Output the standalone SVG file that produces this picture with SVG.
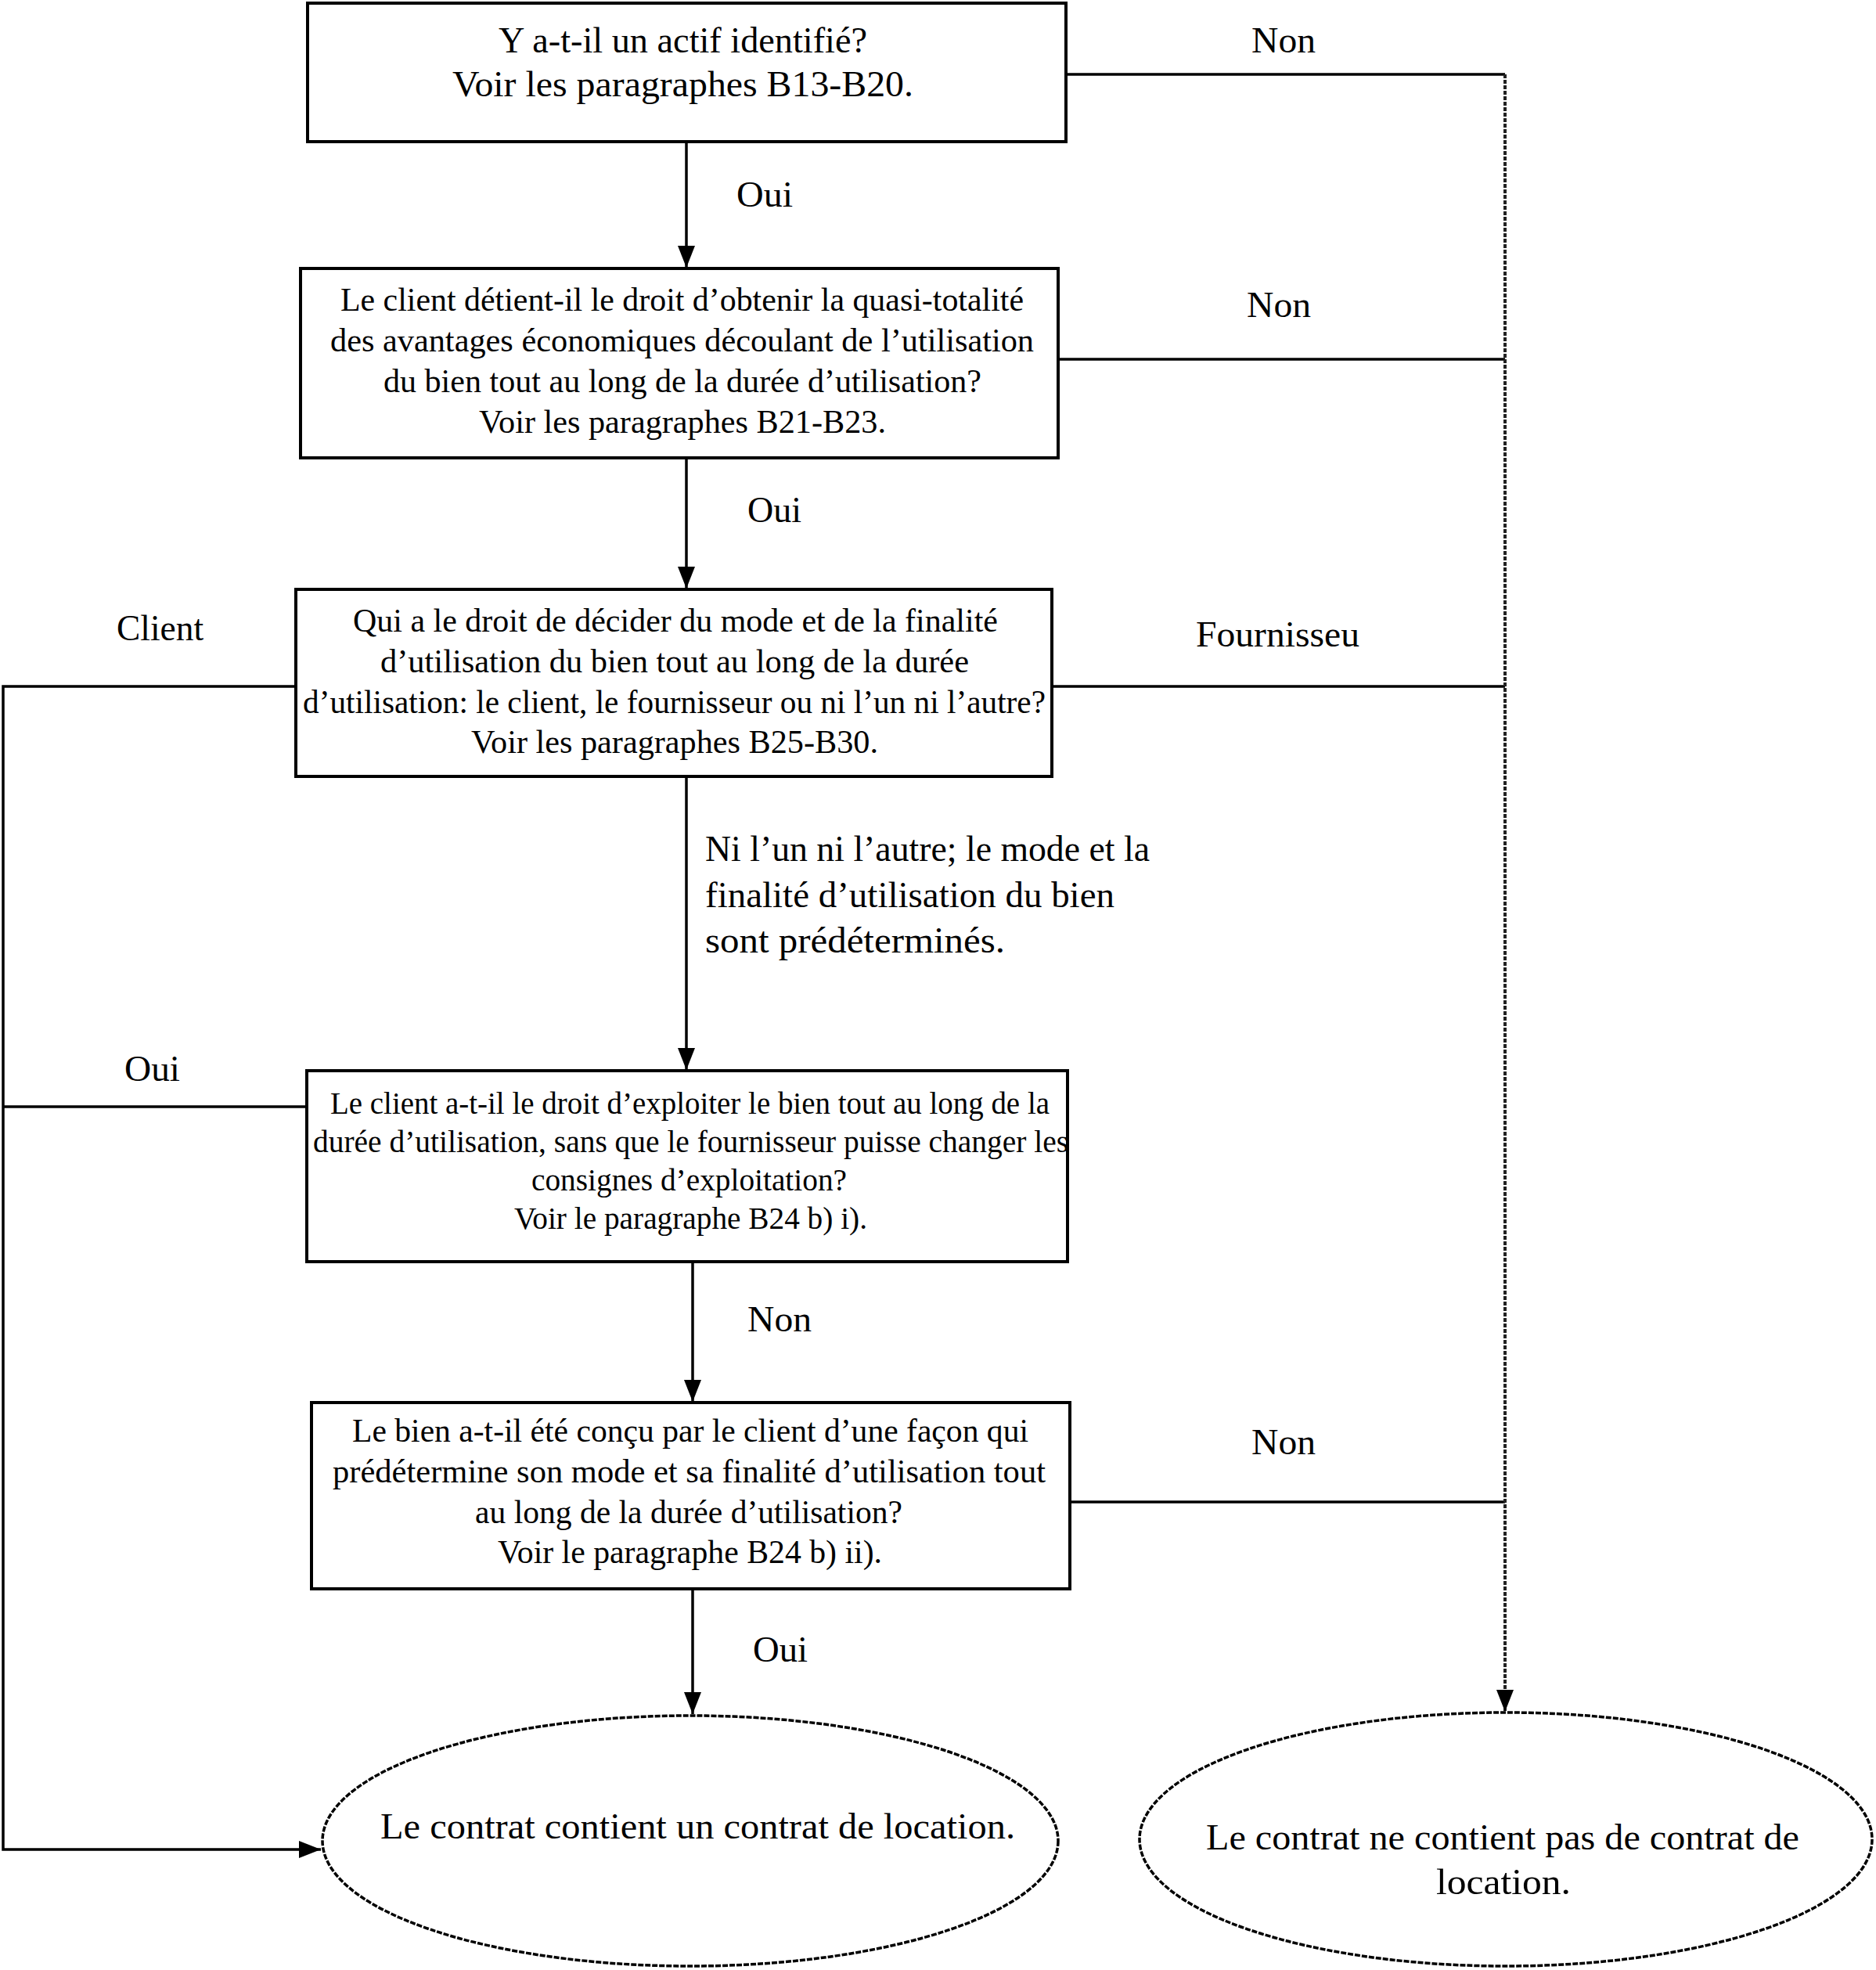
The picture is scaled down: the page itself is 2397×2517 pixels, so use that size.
<svg xmlns="http://www.w3.org/2000/svg" width="2397" height="2517" viewBox="0 0 2397 2517">
<defs>
<style>
.box{fill:#fff;stroke:#000;stroke-width:4}
.ell{fill:#fff;stroke:#000;stroke-width:3.5;stroke-dasharray:7 2}
.ln{fill:none;stroke:#000;stroke-width:3.5}
.dot{fill:none;stroke:#222;stroke-width:4;stroke-dasharray:5 2}
text{font-family:"Liberation Serif","Times New Roman",serif;fill:#000}
.t40{font-size:42px}
.t37{font-size:39px}
.t46{font-size:47px}
</style>
<marker id="ah" viewBox="0 0 28 24" refX="28" refY="12" markerWidth="28" markerHeight="24" markerUnits="userSpaceOnUse" orient="auto">
<path d="M0,1 L28,12 L0,23 z" fill="#000"/>
</marker>
</defs>
<rect width="2397" height="2517" fill="#fff"/>

<g id="connectors">
<line class="ln" x1="877" y1="181" x2="877" y2="342" marker-end="url(#ah)"/>
<line class="ln" x1="877" y1="585" x2="877" y2="752" marker-end="url(#ah)"/>
<line class="ln" x1="877" y1="992" x2="877" y2="1367" marker-end="url(#ah)"/>
<line class="ln" x1="885" y1="1612" x2="885" y2="1791" marker-end="url(#ah)"/>
<line class="ln" x1="885" y1="2030" x2="885" y2="2190" marker-end="url(#ah)"/>
<polyline class="ln" points="1362,95 1923,95"/>
<polyline class="ln" points="1352,459 1923,459"/>
<polyline class="ln" points="1344,877 1923,877"/>
<polyline class="ln" points="1367,1919 1923,1919"/>
<line class="dot" x1="1923" y1="95" x2="1923" y2="2187" marker-end="url(#ah)"/>
<polyline class="ln" points="378,877 4,877 4,2363 410,2363" marker-end="url(#ah)"/>
<polyline class="ln" points="392,1414 4,1414"/>
<text class="t46" x="1599" y="67" textLength="82" lengthAdjust="spacingAndGlyphs">Non</text>
<text class="t46" x="941" y="264" textLength="72" lengthAdjust="spacingAndGlyphs">Oui</text>
<text class="t46" x="1593" y="405" textLength="82" lengthAdjust="spacingAndGlyphs">Non</text>
<text class="t46" x="955" y="667" textLength="69" lengthAdjust="spacingAndGlyphs">Oui</text>
<text class="t46" x="149" y="818" textLength="111" lengthAdjust="spacingAndGlyphs">Client</text>
<text class="t46" x="1528" y="826" textLength="209" lengthAdjust="spacingAndGlyphs">Fournisseu</text>
<text class="t46" x="901" y="1100" textLength="568" lengthAdjust="spacingAndGlyphs">Ni l’un ni l’autre; le mode et la</text>
<text class="t46" x="901" y="1159" textLength="523" lengthAdjust="spacingAndGlyphs">finalité d’utilisation du bien</text>
<text class="t46" x="901" y="1217" textLength="383" lengthAdjust="spacingAndGlyphs">sont prédéterminés.</text>
<text class="t46" x="159" y="1381" textLength="71" lengthAdjust="spacingAndGlyphs">Oui</text>
<text class="t46" x="955" y="1701" textLength="82" lengthAdjust="spacingAndGlyphs">Non</text>
<text class="t46" x="1599" y="1858" textLength="82" lengthAdjust="spacingAndGlyphs">Non</text>
<text class="t46" x="962" y="2123" textLength="70" lengthAdjust="spacingAndGlyphs">Oui</text>
</g>

<g id="box1">
<rect class="box" x="393" y="4" width="969" height="177"/>
<text class="t46" x="637" y="67" textLength="471" lengthAdjust="spacingAndGlyphs">Y a-t-il un actif identifié?</text>
<text class="t46" x="578" y="123" textLength="589" lengthAdjust="spacingAndGlyphs">Voir les paragraphes B13-B20.</text>
</g>

<g id="box2">
<rect class="box" x="384" y="343" width="968" height="242"/>
<text class="t40" x="435" y="397" textLength="873" lengthAdjust="spacingAndGlyphs">Le client détient-il le droit d’obtenir la quasi-totalité</text>
<text class="t40" x="422" y="449" textLength="899" lengthAdjust="spacingAndGlyphs">des avantages économiques découlant de l’utilisation</text>
<text class="t40" x="490" y="501" textLength="764" lengthAdjust="spacingAndGlyphs">du bien tout au long de la durée d’utilisation?</text>
<text class="t40" x="612" y="553" textLength="520" lengthAdjust="spacingAndGlyphs">Voir les paragraphes B21-B23.</text>
</g>

<g id="box3">
<rect class="box" x="378" y="753" width="966" height="239"/>
<text class="t40" x="451" y="807" textLength="824" lengthAdjust="spacingAndGlyphs">Qui a le droit de décider du mode et de la finalité</text>
<text class="t40" x="486" y="859" textLength="752" lengthAdjust="spacingAndGlyphs">d’utilisation du bien tout au long de la durée</text>
<text class="t40" x="387" y="911" textLength="949" lengthAdjust="spacingAndGlyphs">d’utilisation: le client, le fournisseur ou ni l’un ni l’autre?</text>
<text class="t40" x="602" y="962" textLength="520" lengthAdjust="spacingAndGlyphs">Voir les paragraphes B25-B30.</text>
</g>

<g id="box4">
<rect class="box" x="392" y="1368" width="972" height="244"/>
<text class="t37" x="422" y="1423" textLength="919" lengthAdjust="spacingAndGlyphs">Le client a-t-il le droit d’exploiter le bien tout au long de la</text>
<text class="t37" x="400" y="1472" textLength="965" lengthAdjust="spacingAndGlyphs">durée d’utilisation, sans que le fournisseur puisse changer les</text>
<text class="t37" x="679" y="1521" textLength="403" lengthAdjust="spacingAndGlyphs">consignes d’exploitation?</text>
<text class="t37" x="657" y="1570" textLength="451" lengthAdjust="spacingAndGlyphs">Voir le paragraphe B24 b) i).</text>
</g>

<g id="box5">
<rect class="box" x="398" y="1792" width="969" height="238"/>
<text class="t40" x="450" y="1842" textLength="864" lengthAdjust="spacingAndGlyphs">Le bien a-t-il été conçu par le client d’une façon qui</text>
<text class="t40" x="425" y="1894" textLength="911" lengthAdjust="spacingAndGlyphs">prédétermine son mode et sa finalité d’utilisation tout</text>
<text class="t40" x="607" y="1946" textLength="546" lengthAdjust="spacingAndGlyphs">au long de la durée d’utilisation?</text>
<text class="t40" x="636" y="1997" textLength="491" lengthAdjust="spacingAndGlyphs">Voir le paragraphe B24 b) ii).</text>
</g>

<g id="end-yes">
<ellipse class="ell" cx="882" cy="2352" rx="470" ry="160"/>
<text class="t46" x="486" y="2349" textLength="811" lengthAdjust="spacingAndGlyphs">Le contrat contient un contrat de location.</text>
</g>

<g id="end-no">
<ellipse class="ell" cx="1924" cy="2350" rx="468" ry="162"/>
<text class="t46" x="1541" y="2363" textLength="758" lengthAdjust="spacingAndGlyphs">Le contrat ne contient pas de contrat de</text>
<text class="t46" x="1835" y="2420" textLength="172" lengthAdjust="spacingAndGlyphs">location.</text>
</g>
</svg>
